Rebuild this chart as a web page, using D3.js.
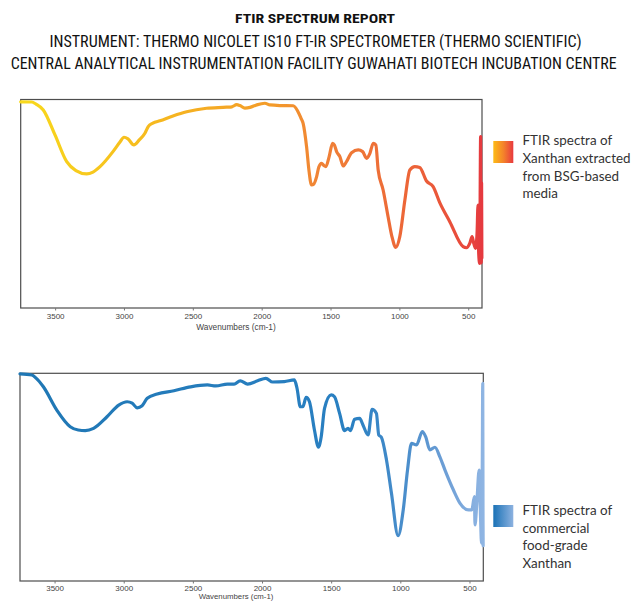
<!DOCTYPE html>
<html>
<head>
<meta charset="utf-8">
<script src="https://cdn.jsdelivr.net/npm/d3@7"></script>
<style>
  html, body { margin: 0; padding: 0; background: #ffffff; }
  svg { display: block; }
</style>
</head>
<body>
<svg id="chart" width="631" height="601"></svg>
<script>
// Header lines
const titleLines = [
  "FTIR SPECTRUM REPORT",
  "INSTRUMENT: THERMO NICOLET IS10 FT-IR SPECTROMETER (THERMO SCIENTIFIC)",
  "CENTRAL ANALYTICAL INSTRUMENTATION FACILITY GUWAHATI BIOTECH INCUBATION CENTRE"
];

// Shared x axis
const xTicks = [3500, 3000, 2500, 2000, 1500, 1000, 500];
const xTitle = "Wavenumbers (cm-1)";

// Spectrum 1: xanthan extracted from BSG-based media (wavenumber, %T)
const bsgWavenumber = [3750, 3670, 3639, 3586, 3501, 3416, 3349, 3271, 3225, 3174,
  3080, 3029, 3000, 2971, 2928, 2889, 2848, 2824, 2790, 2739,
  2644, 2545, 2400, 2255, 2216, 2182, 2158, 2122, 2085, 2037,
  1977, 1940, 1868, 1771, 1739, 1715, 1699, 1674, 1657, 1638,
  1621, 1601, 1585, 1565, 1548, 1534, 1510, 1485, 1472, 1456,
  1432, 1408, 1384, 1347, 1299, 1267, 1238, 1214, 1190, 1171,
  1154, 1118, 1082, 1055, 1026, 997, 960, 924, 888, 852,
  803, 755, 706, 634, 537, 513, 489, 472, 460, 447,
  436, 429, 424, 417, 410, 407, 405, 403, 401];
const bsgTransmittance = [98.9, 98.8, 97.8, 95.0, 83.0, 70.2, 65.9, 64.3, 65.2, 67.8,
  75.0, 79.6, 81.9, 81.1, 78.2, 80.6, 83.8, 87.0, 88.7, 89.8,
  92.1, 94.1, 95.8, 96.3, 96.5, 97.5, 97.1, 95.9, 96.2, 97.4,
  98.2, 97.4, 97.1, 97.0, 94.5, 91.1, 88.6, 77.4, 66.2, 59.0,
  59.5, 63.0, 67.6, 69.4, 68.3, 67.8, 72.6, 79.0, 78.2, 75.0,
  72.6, 68.1, 70.2, 74.5, 75.8, 75.0, 71.8, 74.2, 79.0, 78.2,
  66.2, 56.6, 43.8, 34.5, 29.1, 34.2, 51.8, 66.2, 67.8, 67.4,
  60.9, 58.2, 50.4, 41.4, 29.4, 28.9, 31.0, 34.2, 31.0, 28.6,
  35.8, 49.4, 26.2, 21.4, 82.2, 30.0, 21.6, 60.0, 24.0];

// Spectrum 2: commercial food-grade xanthan (wavenumber, %T)
const commWavenumber = [3750, 3665, 3634, 3581, 3484, 3387, 3329, 3278, 3218, 3121,
  3036, 2975, 2939, 2903, 2867, 2830, 2758, 2637, 2516, 2395,
  2334, 2250, 2202, 2158, 2104, 2032, 1972, 1923, 1839, 1766,
  1747, 1723, 1705, 1681, 1657, 1621, 1592, 1572, 1548, 1500,
  1476, 1439, 1403, 1378, 1360, 1331, 1294, 1270, 1233, 1204,
  1173, 1156, 1137, 1100, 1064, 1016, 979, 948, 919, 883,
  841, 817, 786, 750, 714, 677, 616, 568, 507, 483,
  464, 460, 447, 430, 420, 413, 407, 404, 402, 401];
const commTransmittance = [99.7, 99.2, 97.7, 93.5, 82.3, 74.3, 72.7, 72.4, 73.5, 79.1,
  84.7, 86.3, 85.6, 83.4, 84.4, 88.0, 90.0, 91.6, 93.5, 94.4,
  93.9, 94.8, 94.8, 96.4, 94.8, 96.4, 97.6, 95.8, 96.0, 96.8,
  92.8, 83.9, 83.9, 88.4, 86.3, 72.7, 64.4, 69.5, 83.1, 89.6,
  88.7, 80.7, 72.4, 73.5, 72.4, 77.9, 78.3, 75.1, 70.3, 82.7,
  80.7, 70.3, 69.2, 58.3, 42.2, 21.8, 34.2, 53.4, 66.3, 65.5,
  71.9, 69.5, 63.1, 64.4, 59.8, 53.4, 43.8, 37.4, 34.2, 34.2,
  40.6, 27.0, 37.4, 53.4, 31.0, 18.2, 60.0, 95.2, 30.0, 17.0];

const legendBsg = ["FTIR spectra of", "Xanthan extracted", "from BSG-based", "media"];
const legendComm = ["FTIR spectra of", "commercial", "food-grade", "Xanthan"];

const svg = d3.select("#chart");
const defs = svg.append("defs");

// ---- header ----
const headerFont = "'Liberation Sans Narrow', 'Arial Narrow', 'Roboto Condensed', sans-serif";
const header = [
  { text: titleLines[0], x: 315, y: 23, size: 13.5, weight: "bold", len: 160 },
  { text: titleLines[1], x: 315.5, y: 47, size: 16, weight: "normal", len: 532 },
  { text: titleLines[2], x: 313.7, y: 68.5, size: 16, weight: "normal", len: 606 }
];
svg.selectAll("text.header").data(header).join("text")
  .attr("class", "header")
  .attr("x", d => d.x).attr("y", d => d.y)
  .attr("text-anchor", "middle")
  .attr("font-family", headerFont)
  .attr("font-size", d => d.size)
  .attr("font-weight", d => d.weight)
  .attr("fill", "#111")
  .attr("textLength", d => d.len)
  .attr("lengthAdjust", "spacingAndGlyphs")
  .text(d => d.text);

// ---- gradients ----
function gradient(id, x1, x2, stops) {
  const g = defs.append("linearGradient")
    .attr("id", id)
    .attr("gradientUnits", "userSpaceOnUse")
    .attr("x1", x1).attr("x2", x2)
    .attr("y1", 0).attr("y2", 0);
  g.selectAll("stop").data(stops).join("stop")
    .attr("offset", d => d[0]).attr("stop-color", d => d[1]);
}

const warmStops = [[0, "#f8d91c"], [0.3, "#f6b81f"], [0.55, "#f39a2a"], [0.65, "#f08236"],
  [0.85, "#ec6438"], [0.97, "#e8473c"], [1, "#e5393f"]];
const coolStops = [[0, "#1f77b4"], [0.72, "#2a80c2"], [0.84, "#4d8fcc"], [0.92, "#6e9fd6"], [1, "#8fb5e3"]];

// ---- panels ----
function panel(cfg) {
  const x = d3.scaleLinear().domain([3750, 400]).range([cfg.left, cfg.right]);
  const y = d3.scaleLinear().domain([0, 100]).range([cfg.bottom, cfg.top]);
  const g = svg.append("g");

  gradient(cfg.id, cfg.left, cfg.right, cfg.stops);

  // frame
  g.append("rect")
    .attr("x", cfg.left).attr("y", cfg.top)
    .attr("width", cfg.right - cfg.left).attr("height", cfg.bottom - cfg.top)
    .attr("fill", "none").attr("stroke", "#4d4d4d").attr("stroke-width", 1.2);

  // x axis
  const axis = g.append("g")
    .attr("transform", `translate(0,${cfg.bottom})`)
    .call(d3.axisBottom(x).tickValues(xTicks).tickSize(2.5).tickPadding(cfg.tickPad).tickFormat(d3.format("d")));
  axis.select(".domain").remove();
  axis.selectAll(".tick line").attr("stroke", "#777");
  axis.selectAll(".tick text")
    .attr("fill", "#444")
    .attr("font-family", "'Liberation Sans', Arial, sans-serif")
    .attr("font-size", 8);

  g.append("text")
    .attr("x", 236).attr("y", cfg.bottom + cfg.titleGap)
    .attr("text-anchor", "middle")
    .attr("font-family", "'Liberation Sans', Arial, sans-serif")
    .attr("font-size", cfg.titleSize)
    .attr("fill", "#444")
    .text(xTitle);

  // spectrum
  const pts = cfg.wn.map((w, i) => [w, cfg.t[i]]);
  const line = d3.line()
    .x(d => x(d[0])).y(d => y(d[1]))
    .curve(d3.curveMonotoneX);
  g.append("path")
    .datum(pts)
    .attr("d", line)
    .attr("fill", "none")
    .attr("stroke", `url(#${cfg.id})`)
    .attr("stroke-width", 3.2)
    .attr("stroke-linejoin", "round")
    .attr("stroke-linecap", "round");

  // legend
  const lg = defs.append("linearGradient").attr("id", cfg.id + "-key")
    .attr("x1", 0).attr("x2", 1).attr("y1", 0).attr("y2", 0);
  lg.selectAll("stop").data(cfg.keyStops).join("stop")
    .attr("offset", d => d[0]).attr("stop-color", d => d[1]);
  g.append("rect")
    .attr("x", 493.3).attr("y", cfg.keyY)
    .attr("width", 20).attr("height", 22)
    .attr("fill", `url(#${cfg.id}-key)`);
  g.append("g").selectAll("text").data(cfg.legend).join("text")
    .attr("x", 522.5)
    .attr("y", (d, i) => cfg.textY + i * cfg.lineGap)
    .attr("font-family", "Lato, 'Open Sans', sans-serif")
    .attr("font-size", 13.4)
    .attr("fill", "#333")
    .text(d => d);
}

panel({
  id: "warm", left: 20.7, right: 482, top: 99.5, bottom: 308,
  tickPad: 3, titleGap: 22, titleSize: 8.3,
  wn: bsgWavenumber, t: bsgTransmittance, stops: warmStops,
  keyStops: [[0, "#fdbb16"], [0.5, "#f4842a"], [1, "#e8393f"]],
  keyY: 141, textY: 145, lineGap: 17.8, legend: legendBsg
});

panel({
  id: "cool", left: 20, right: 483.3, top: 373.3, bottom: 581,
  tickPad: 1.8, titleGap: 18.2, titleSize: 7.8,
  wn: commWavenumber, t: commTransmittance, stops: coolStops,
  keyStops: [[0, "#1a72b6"], [1, "#8db2e0"]],
  keyY: 505, textY: 515, lineGap: 17.5, legend: legendComm
});
</script>
</body>
</html>
